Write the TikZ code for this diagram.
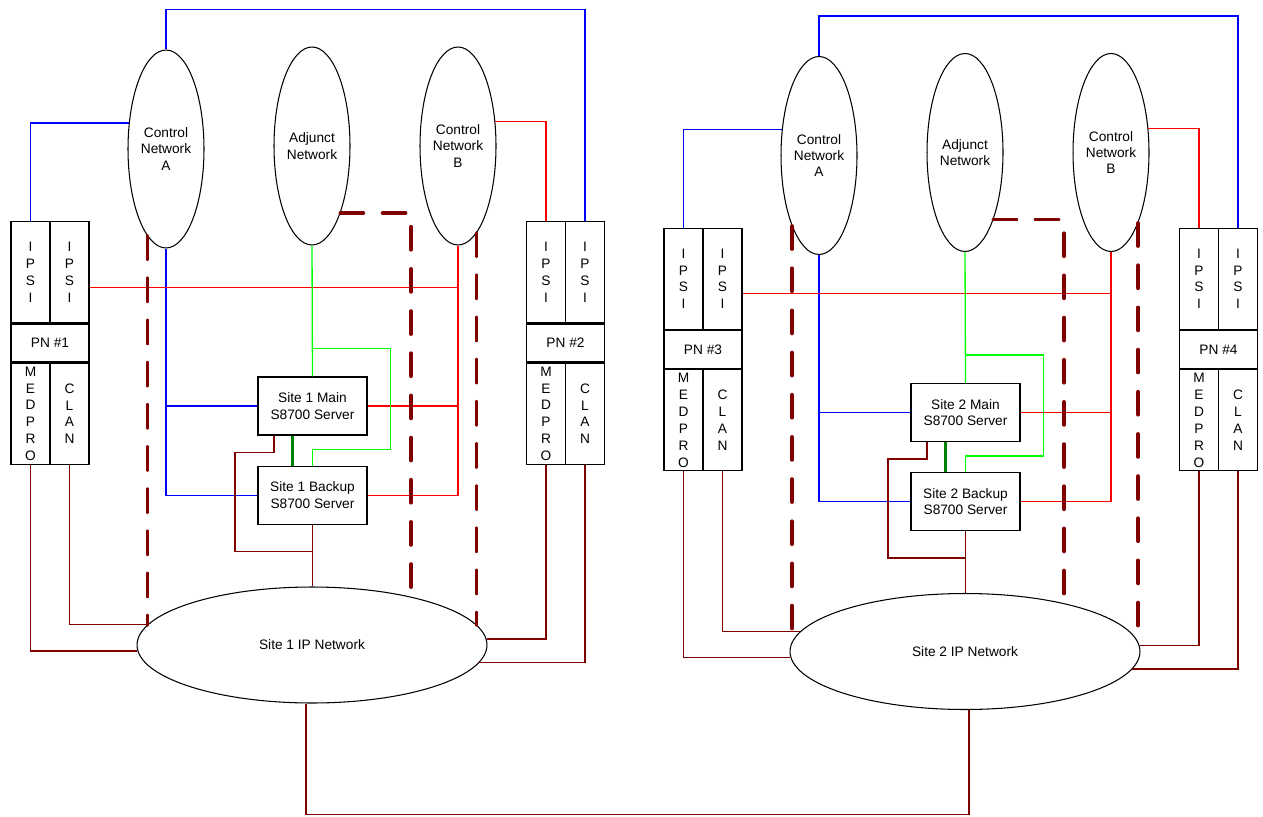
\documentclass[tikz,border=0pt]{standalone}
\usepackage{fontspec}
\setsansfont{Liberation Sans}
\usepackage{xcolor}
\usetikzlibrary{positioning, shapes.geometric}

\definecolor{maroon}{RGB}{128,0,0}
\definecolor{ctlblue}{RGB}{0,0,255}
\definecolor{ctlred}{RGB}{255,0,0}
\definecolor{adjgreen}{RGB}{0,255,0}
\definecolor{linkgreen}{RGB}{0,128,0}

\begin{document}
\begin{tikzpicture}[x=0.02cm, y=-0.02cm, font=\sffamily\fontsize{7.8}{9.3}\selectfont,
  net/.style={draw, ellipse, line width=0.6pt, inner sep=0pt, minimum width=1.52cm, minimum height=3.96cm, align=center},
  ipnet/.style={draw, ellipse, line width=0.6pt, inner sep=0pt, minimum width=7cm, minimum height=2.32cm},
  server/.style={draw, line width=0.7pt, inner sep=0pt, minimum width=2.18cm, minimum height=1.16cm, align=center},
  pnrow/.style={draw, line width=0.7pt, inner sep=0pt, minimum width=1.56cm, minimum height=0.76cm},
  slot/.style={draw, line width=0.7pt, inner sep=0pt, minimum width=0.78cm, minimum height=2.02cm, align=center, font=\sffamily\fontsize{7.8}{9.6}\selectfont},
  ctlA/.style={ctlblue, line width=0.75pt},
  ctlB/.style={ctlred, line width=0.75pt},
  adj/.style={adjgreen, line width=0.75pt},
  hb/.style={linkgreen, line width=2pt},
  lan/.style={maroon, line width=0.75pt},
  trunk/.style={maroon, line width=2.2pt, line cap=round, dash pattern=on 13pt off 11pt}]

  \useasboundingbox (0,0) rectangle (1263,817);

  % one block per site (site 2 sits right of site 1)
  \foreach \s/\sx/\sy/\pa/\pb/\la/\lb/\ra/\rb in
      {1/0/0/1/2/-102/173/-78/7, 2/653/6.5/3/4/-111/177/-69/3} {
  \begin{scope}[shift={(\sx,\sy)}]

    % Networks
    \node[net] (CNA\s) at (166,149) {Control\\Network\\A};
    \node[net] (ADJ\s) at (312,146) {Adjunct\\Network};
    \node[net] (CNB\s) at (458,146) {Control\\Network\\B};
    \node[ipnet] (IP\s) at (312,645) {Site \s{} IP Network};

    % Servers
    \node[server] (MAIN\s) at (312.5,406) {Site \s{} Main\\S8700 Server};
    \node[server, below=0.6cm of MAIN\s] (BACK\s) {Site \s{} Backup\\S8700 Server};

    % Port networks (a = left, b = right)
    \foreach \u/\ux/\num in {a/50/\pa, b/565.5/\pb} {
      \node[pnrow] (PN\u\s) at (\ux,343) {PN \#\num};
      \node[slot, anchor=south west] (IL\u\s) at (PN\u\s.north west) {I\\P\\S\\I};
      \node[slot, anchor=south east] (IR\u\s) at (PN\u\s.north east) {I\\P\\S\\I};
      \node[slot, anchor=north west] (MED\u\s) at (PN\u\s.south west) {M\\E\\D\\P\\R\\O};
      \node[slot, anchor=north east] (CLAN\u\s) at (PN\u\s.south east) {C\\L\\A\\N};
    }

    % --- Control network A (blue) ---
    \draw[ctlA] (CNA\s.north) -- ++(0,-40) -| (IRb\s.north);
    \draw[ctlA] (CNA\s.145) -| (ILa\s.north);
    \draw[ctlA] (CNA\s.south) |- (MAIN\s.west);
    \draw[ctlA] (CNA\s.south) |- (BACK\s.west);

    % --- Control network B (red) ---
    \draw[ctlB] (CNB\s.33) -| (ILb\s.north);
    \draw[ctlB] ([yshift=-0.3cm]IRa\s.east) -| (CNB\s.south);
    \draw[ctlB] (MAIN\s.east) -| (CNB\s.south);
    \draw[ctlB] (BACK\s.east) -| (CNB\s.south);

    % --- Adjunct network (green) ---
    \draw[adj] (ADJ\s.south) -- (MAIN\s.north);
    \draw[adj] (MAIN\s.north) ++(0,-28) -| ++(78,101) -| (BACK\s.north);
    \draw[hb] ([xshift=-0.4cm]MAIN\s.south) -- ([xshift=-0.4cm]BACK\s.north);

    % --- IP network (maroon) ---
    \draw[lan] ([xshift=-0.77cm]MAIN\s.south) -- ++(0,17) -| ++(-39,99) -| (BACK\s.south);
    \draw[lan] (BACK\s.south) -- (BACK\s.south |- IP\s.north);
    \draw[lan] (MEDa\s.south) |- (IP\s.182);
    \draw[lan] (CLANa\s.south) |- (IP\s.173);
    \draw[lan] (MEDb\s.south) |- (IP\s.2);
    \draw[lan] (CLANb\s.south) |- (IP\s.-6);

    % Trunks
    \draw[trunk] (CNA\s.\la) -- (CNA\s.\la |- IP\s.\lb);
    \draw[trunk] (ADJ\s.-67) -| (IP\s.26);
    \draw[trunk] (CNB\s.\ra) -- (CNB\s.\ra |- IP\s.\rb);
  \end{scope}
  }

  % Site 1 to site 2
  \draw[lan] ([xshift=-0.12cm]IP1.south) -- ++(0,111) -| ([xshift=0.08cm]IP2.south);
\end{tikzpicture}
\end{document}
